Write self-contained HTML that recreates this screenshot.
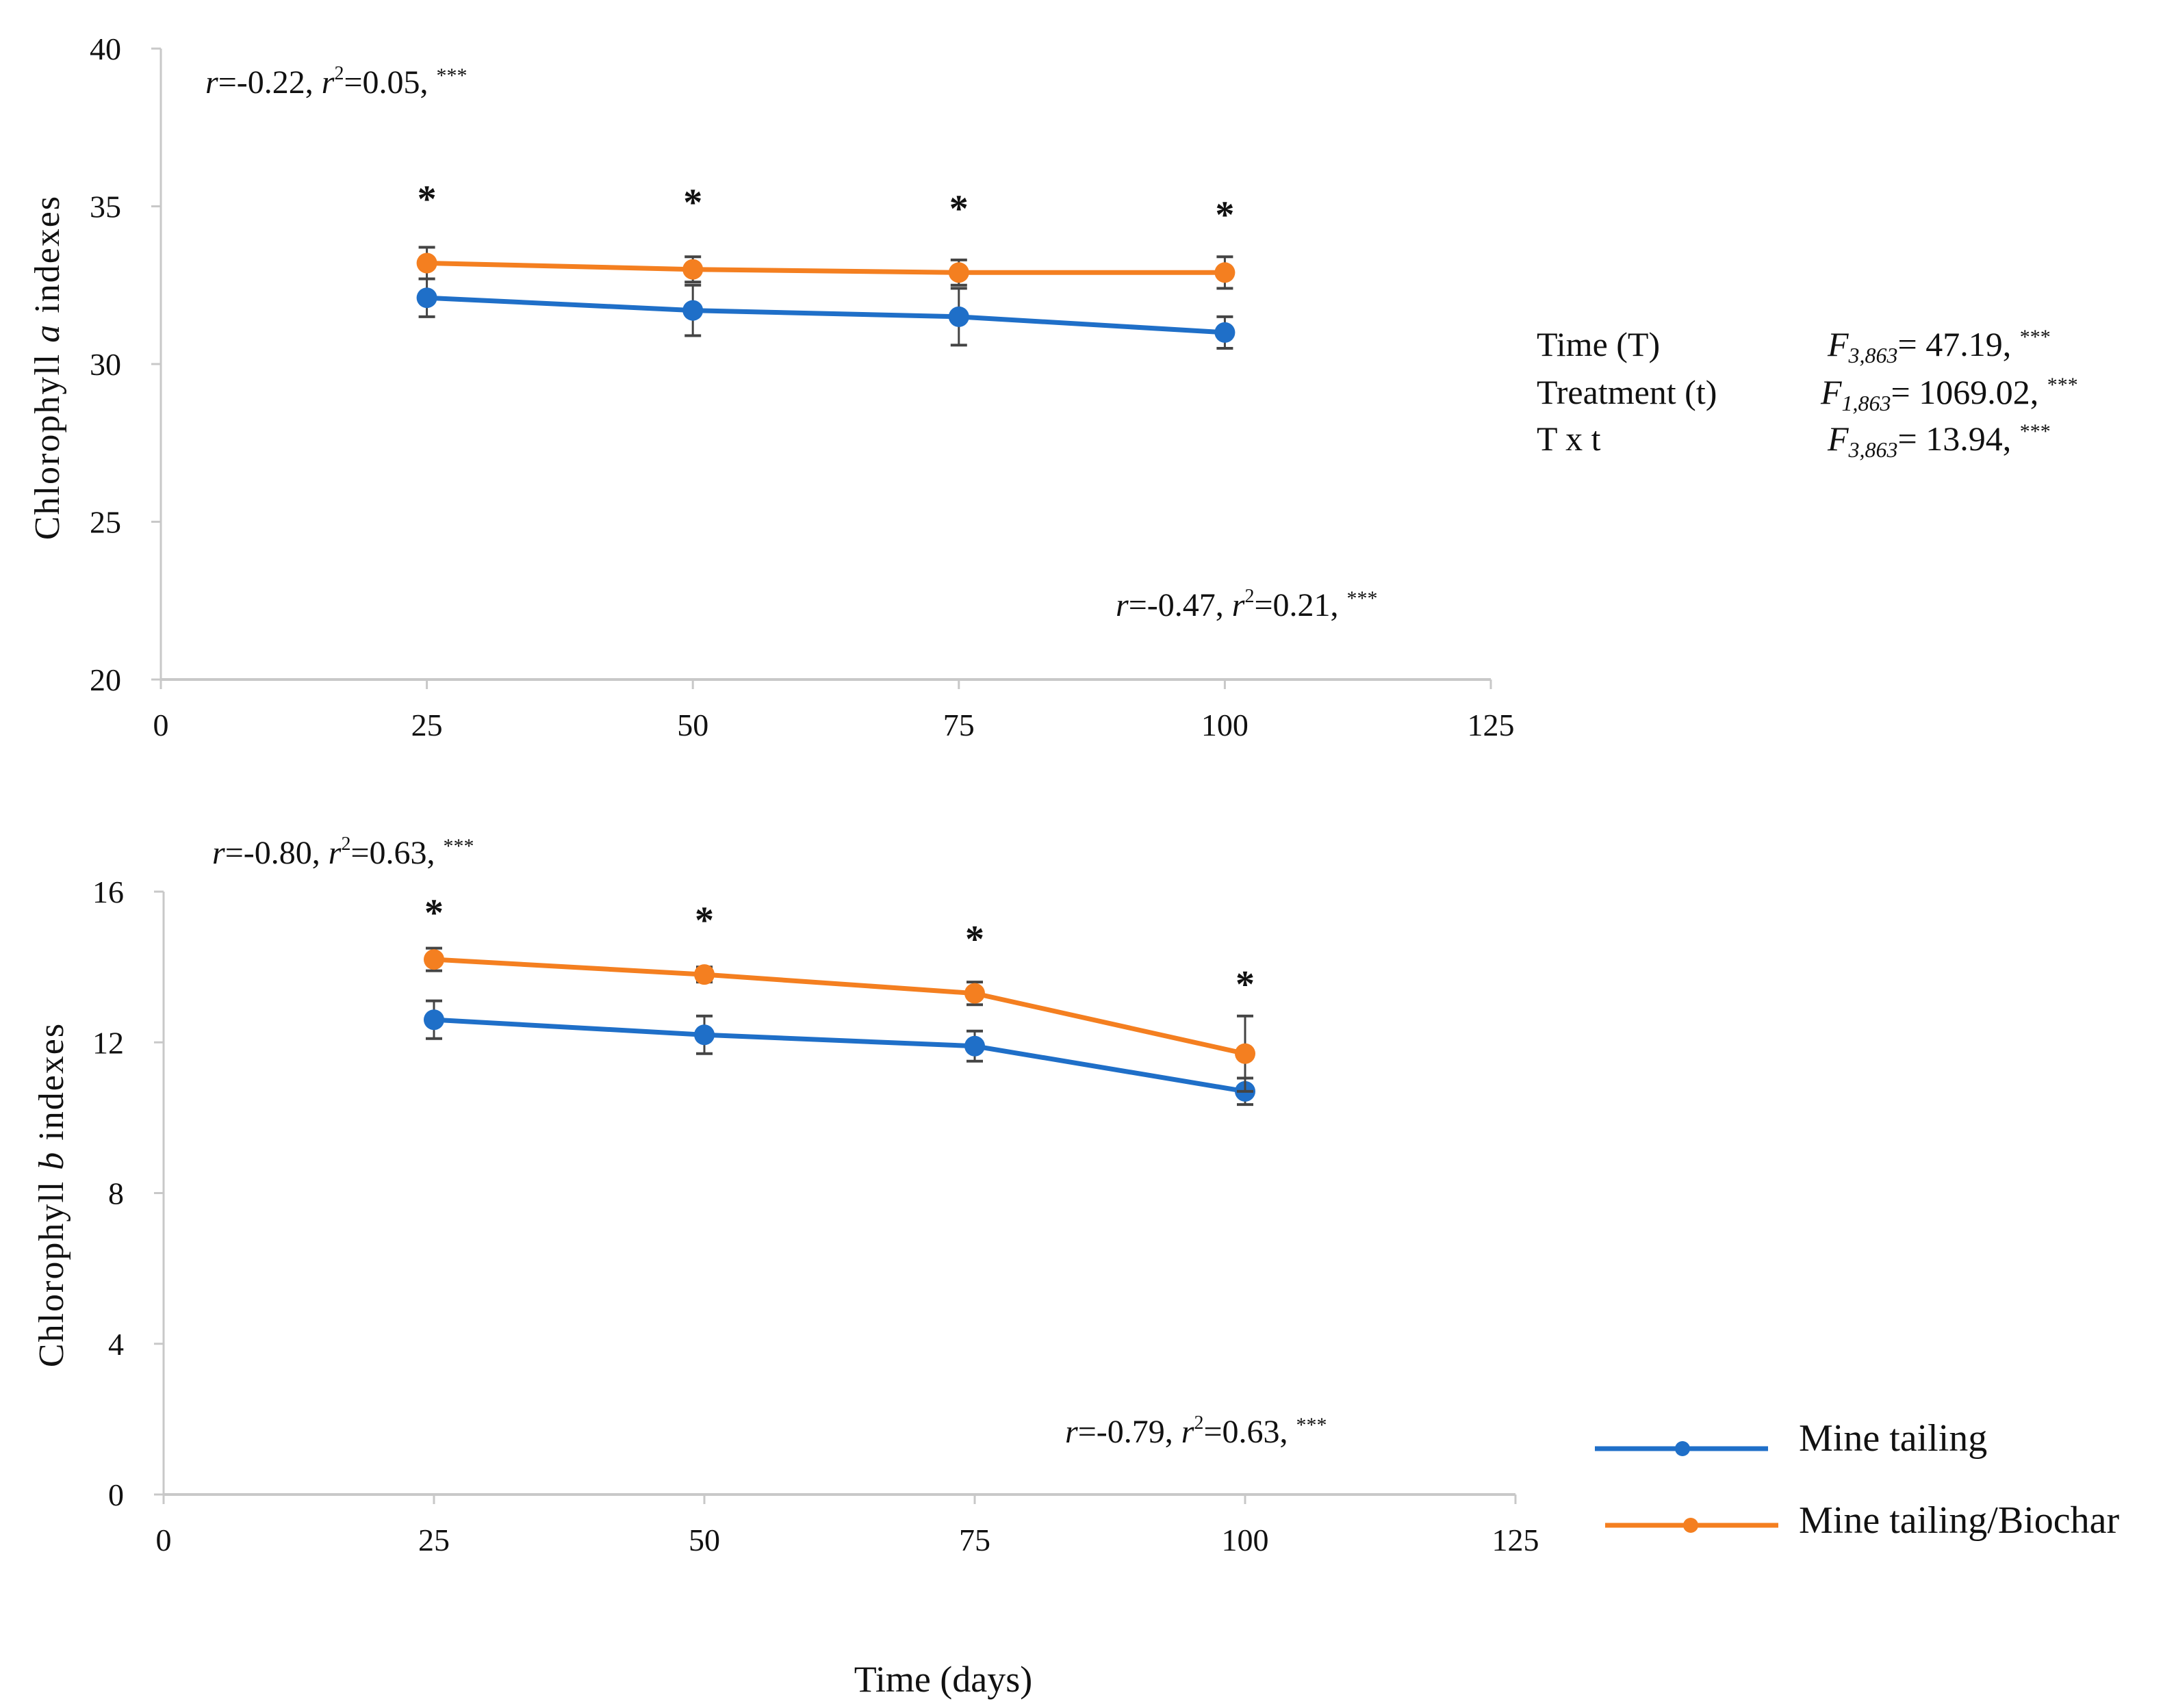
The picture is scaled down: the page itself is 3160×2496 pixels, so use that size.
<!DOCTYPE html>
<html><head><meta charset="utf-8"><style>
html,body{margin:0;padding:0;background:#fff;}
svg{display:block;font-family:"Liberation Serif",serif;}
</style></head><body>
<svg id="c" width="3160" height="2496" viewBox="0 0 3160 2496" xmlns="http://www.w3.org/2000/svg">
<g id="g"></g>
<g font-size="50" fill="#111">
<text x="2245" y="520">Time (T)</text>
<text x="2245" y="590">Treatment (t)</text>
<text x="2245" y="658">T x t</text>
<text x="2670" y="520"><tspan font-style="italic">F</tspan><tspan font-style="italic" font-size="32" dy="10">3,863</tspan><tspan dy="-10">= 47.19, </tspan><tspan font-size="30" dy="-18">***</tspan></text>
<text x="2660" y="590"><tspan font-style="italic">F</tspan><tspan font-style="italic" font-size="32" dy="10">1,863</tspan><tspan dy="-10">= 1069.02, </tspan><tspan font-size="30" dy="-18">***</tspan></text>
<text x="2670" y="658"><tspan font-style="italic">F</tspan><tspan font-style="italic" font-size="32" dy="10">3,863</tspan><tspan dy="-10">= 13.94, </tspan><tspan font-size="30" dy="-18">***</tspan></text>
</g>
<g>
<g>
<line x1="2330" y1="2117" x2="2583" y2="2117" stroke="#1f6fc8" stroke-width="7"/>
<circle cx="2458" cy="2117" r="11" fill="#1f6fc8"/>
<text x="2628" y="2120" font-size="56" fill="#111">Mine tailing</text>
</g>
<g>
<line x1="2345" y1="2229" x2="2598" y2="2229" stroke="#f47f20" stroke-width="7"/>
<circle cx="2470" cy="2229" r="11" fill="#f47f20"/>
<text x="2628" y="2240" font-size="56" fill="#111">Mine tailing/Biochar</text>
</g>
</g>
<text x="1378" y="2472" font-size="54" text-anchor="middle" fill="#111">Time (days)</text>
</svg>
<script>
const days = [25, 50, 75, 100];
const xTicks = [0, 25, 50, 75, 100, 125];
const aBlue = [32.1, 31.7, 31.5, 31.0];
const aBlueErr = [0.6, 0.8, 0.9, 0.5];
const aOrange = [33.2, 33.0, 32.9, 32.9];
const aOrangeErr = [0.5, 0.4, 0.4, 0.5];
const aStars = [35.3, 35.2, 35.0, 34.8];
const aYTicks = [20, 25, 30, 35, 40];
const bBlue = [12.6, 12.2, 11.9, 10.7];
const bBlueErr = [0.5, 0.5, 0.4, 0.35];
const bOrange = [14.2, 13.8, 13.3, 11.7];
const bOrangeErr = [0.3, 0.2, 0.3, 1.0];
const bStars = [15.5, 15.3, 14.8, 13.6];
const bYTicks = [0, 4, 8, 12, 16];

const NS = "http://www.w3.org/2000/svg";
const root = document.getElementById('g');
function mk(tag, attrs, parent){const e=document.createElementNS(NS,tag);for(const k in attrs)e.setAttribute(k,attrs[k]);(parent||root).appendChild(e);return e;}

function panel(cfg){
  const P = mk('g',{});
  
  
  const sx = v => cfg.x0 + (v - 0) / 125 * (cfg.x1 - cfg.x0);
  const sy = v => cfg.y0 - (v - cfg.ymin) / (cfg.ymax - cfg.ymin) * (cfg.y0 - cfg.y1);
  const ax = mk('line',{x1:cfg.x0,y1:cfg.y0,x2:cfg.x1,y2:cfg.y0,stroke:'#c8c8c8','stroke-width':4},P);
  
  
  const ay = mk('line',{x1:cfg.x0,y1:cfg.y0,x2:cfg.x0,y2:cfg.y1,stroke:'#c8c8c8','stroke-width':3},P);
  
  
  xTicks.forEach(t=>{
    mk('line',{x1:sx(t),y1:cfg.y0,x2:sx(t),y2:cfg.y0+14,stroke:'#c8c8c8','stroke-width':3},P);
    const l = mk('text',{x:sx(t),y:cfg.y0+82,'font-size':46,'text-anchor':'middle',fill:'#111'},P);
    l.textContent = t;
    
    
  });
  cfg.yTicks.forEach(t=>{
    mk('line',{x1:cfg.x0-14,y1:sy(t),x2:cfg.x0,y2:sy(t),stroke:'#c8c8c8','stroke-width':3},P);
    const l = mk('text',{x:cfg.x0-58,y:sy(t)+16,'font-size':46,'text-anchor':'end',fill:'#111'},P);
    l.textContent = t;
    
    
  });
  const yt = mk('text',{x:0,y:0,'font-size':52,'text-anchor':'middle',fill:'#111','letter-spacing':'2',transform:`translate(${cfg.ytx},${cfg.yty}) rotate(-90)`},P);
  yt.innerHTML = 'Chlorophyll <tspan font-style="italic">'+cfg.letter+'</tspan> indexes';
  
  
  [[cfg.blue,cfg.blueErr,'#1f6fc8','series-mine-tailing'],[cfg.orange,cfg.orangeErr,'#f47f20','series-mine-tailing-biochar']].forEach(([vals,errs,col,nm])=>{
    const S = mk('g',{},P);
    
    
    const pts = days.map((d,i)=>sx(d)+','+sy(vals[i])).join(' ');
    mk('polyline',{points:pts,fill:'none',stroke:col,'stroke-width':7},S);
    days.forEach((d,i)=>{
      const x=sx(d), yh=sy(vals[i]+errs[i]), yl=sy(vals[i]-errs[i]);
      mk('line',{x1:x,y1:yh,x2:x,y2:yl,stroke:'#444','stroke-width':3},S);
      mk('line',{x1:x-12,y1:yh,x2:x+12,y2:yh,stroke:'#444','stroke-width':4},S);
      mk('line',{x1:x-12,y1:yl,x2:x+12,y2:yl,stroke:'#444','stroke-width':4},S);
      const c = mk('circle',{cx:x,cy:sy(vals[i]),r:15,fill:col},S);
      
      
    });
  });
  days.forEach((d,i)=>{
    const s = mk('text',{x:sx(d),y:sy(cfg.stars[i])+22,'font-size':56,'text-anchor':'middle',fill:'#111','font-weight':'bold'},P);
    s.textContent='*';
    
    
  });
  cfg.notes.forEach(n=>{
    const t = mk('text',{x:n[0],y:n[1],'font-size':48,fill:'#111'},P);
    t.innerHTML = '<tspan font-style="italic">r</tspan>='+n[2]+', <tspan font-style="italic">r</tspan><tspan font-size="28" dy="-20">2</tspan><tspan dy="20">='+n[3]+', </tspan><tspan font-size="30" dy="-16">***</tspan>';
    
    
  });
}
panel({name:'chlorophyll-a-panel',x0:235,x1:2178,y0:993,y1:71,ymin:20,ymax:40,yTicks:aYTicks,letter:'a',ytx:86,yty:537,
  blue:aBlue,blueErr:aBlueErr,orange:aOrange,orangeErr:aOrangeErr,stars:aStars,
  notes:[[300,136,'-0.22','0.05'],[1630,900,'-0.47','0.21']]});
panel({name:'chlorophyll-b-panel',x0:239,x1:2214,y0:2184,y1:1303,ymin:0,ymax:16,yTicks:bYTicks,letter:'b',ytx:92,yty:1746,
  blue:bBlue,blueErr:bBlueErr,orange:bOrange,orangeErr:bOrangeErr,stars:bStars,
  notes:[[310,1262,'-0.80','0.63'],[1556,2108,'-0.79','0.63']]});
</script>
</body></html>
